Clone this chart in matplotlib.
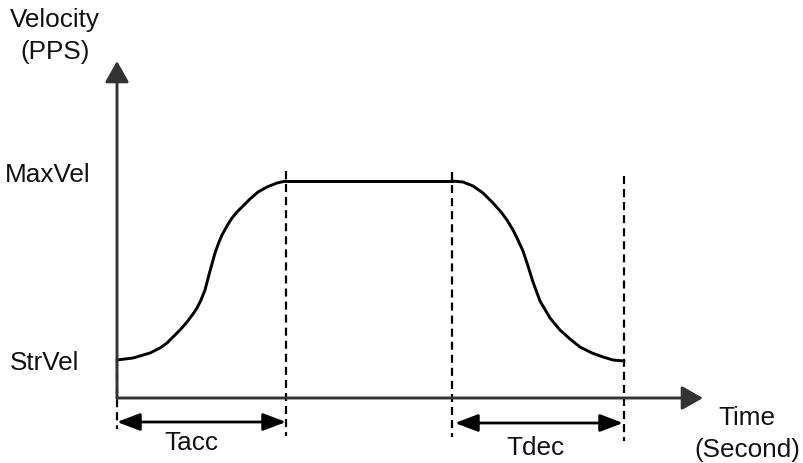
import matplotlib
matplotlib.use("Agg")
import matplotlib.pyplot as plt

plt.rcParams['font.family'] = ['Liberation Sans', 'DejaVu Sans']
plt.rcParams['lines.scale_dashes'] = False

# ---- data (time offset / velocity, arbitrary units) ----
acc_t = [0, 16, 33, 43, 50, 56, 63, 70, 76, 80, 84, 88, 93, 98, 102, 105, 110,
         115, 120, 126, 133, 141, 150, 160, 169]
acc_v = [38, 40, 45, 50, 55, 61, 68, 76, 84, 90, 98, 108, 127, 145, 156, 163, 172,
         180, 186, 192, 199, 206, 211, 215, 217]
flat_t = [169, 335]
flat_v = [217, 217]
dec_t = [335, 346, 356, 366, 376, 384, 390, 396, 400, 406, 411, 416, 423, 433,
         443, 453, 463, 475, 486, 496, 507]
dec_v = [217, 216, 212, 205, 195, 186, 178, 168, 160, 147, 132, 116, 97, 80,
         68, 59, 51, 45, 41, 38, 37]

boundaries = [169, 335, 507]          # end of Tacc, start of Tdec, end of Tdec
y_labels = ["Velocity\n(PPS)", "MaxVel", "StrVel"]
x_labels = ["Time\n(Second)"]
interval_labels = ["Tacc", "Tdec"]

fig = plt.figure(figsize=(8.04, 4.64), dpi=100)
ax = fig.add_axes([0, 0, 1, 1])
ax.set_xlim(-117, 687)
ax.set_ylim(-65, 399)
ax.axis('off')

axis_color = '#333333'
fs = 18.8

# axes arrows
ax.annotate('', xy=(0, 337), xytext=(0, 0),
            arrowprops=dict(arrowstyle='-|>,head_length=0.92,head_width=0.52',
                            mutation_scale=14, lw=2.1, color=axis_color,
                            shrinkA=0, shrinkB=0))
ax.annotate('', xy=(586, 0), xytext=(0, 0),
            arrowprops=dict(arrowstyle='-|>,head_length=0.92,head_width=0.52',
                            mutation_scale=14, lw=2.1, color=axis_color,
                            shrinkA=0, shrinkB=0))

# velocity profile
ax.plot(acc_t, acc_v, color='black', lw=2.1, solid_capstyle='round', solid_joinstyle='round')
ax.plot(flat_t, flat_v, color='black', lw=2.1)
ax.plot(dec_t, dec_v, color='black', lw=2.1, solid_capstyle='round', solid_joinstyle='round')

# dashed guide lines
dash = (0, (5.8, 3.6))
ax.plot([0, 0], [acc_v[0], -31], color='black', lw=1.6, linestyle=dash)
ax.plot([boundaries[0]] * 2, [227, -38], color='black', lw=1.6, linestyle=dash)
ax.plot([boundaries[1]] * 2, [226, -39], color='black', lw=1.6, linestyle=dash)
ax.plot([boundaries[2]] * 2, [222, -43], color='black', lw=1.6, linestyle=dash)

# interval arrows
ax.annotate('', xy=(boundaries[0], -24), xytext=(0, -24),
            arrowprops=dict(arrowstyle='<|-|>,head_length=1.0,head_width=0.38',
                            mutation_scale=14, lw=2.0, color='black',
                            shrinkA=0, shrinkB=0))
ax.annotate('', xy=(boundaries[2] - 1, -25), xytext=(boundaries[1] + 3, -25),
            arrowprops=dict(arrowstyle='<|-|>,head_length=1.0,head_width=0.38',
                            mutation_scale=14, lw=2.0, color='black',
                            shrinkA=0, shrinkB=0))

# texts
tc = '#111111'
ax.text(-62, 363, y_labels[0], ha='center', va='center', fontsize=fs, color=tc,
        linespacing=1.38)
ax.text(-112, 224, y_labels[1], ha='left', va='center', fontsize=fs, color=tc)
ax.text(-107, 36, y_labels[2], ha='left', va='center', fontsize=fs, color=tc)
ax.text(74, -44, interval_labels[0], ha='center', va='center', fontsize=fs, color=tc)
ax.text(418, -49, interval_labels[1], ha='center', va='center', fontsize=fs, color=tc)
ax.text(630, -35, x_labels[0], ha='center', va='center', fontsize=fs, color=tc,
        linespacing=1.38)

fig.savefig('out.png', dpi=100, facecolor='white')
